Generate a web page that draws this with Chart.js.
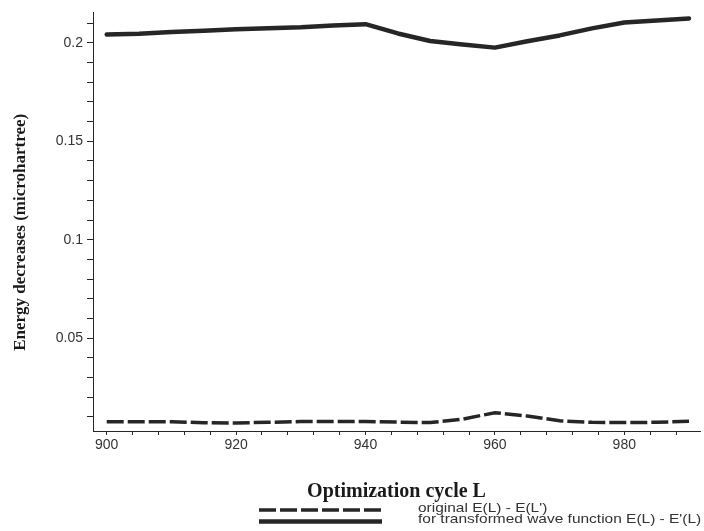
<!DOCTYPE html>
<html><head><meta charset="utf-8">
<script src="https://cdn.jsdelivr.net/npm/chart.js@4.4.1/dist/chart.umd.min.js"></script>
<style>html,body{margin:0;padding:0;background:#fff}#wrap{width:704px;height:531px}</style>
</head><body><div id="wrap"><canvas id="c" width="704" height="531"></canvas></div>
<script>
const cycles = [900,905,910,915,920,925,930,935,940,945,950,955,960,965,970,975,980,985,990];
const originalDiff = [0.0075,0.0075,0.0075,0.0070,0.0069,0.0072,0.0076,0.0076,0.0076,0.0073,0.0071,0.0088,0.0121,0.0104,0.0080,0.0072,0.0071,0.0072,0.0077];
const transformedDiff = [0.2043,0.2047,0.2055,0.2062,0.2070,0.2075,0.2080,0.2089,0.2095,0.2048,0.2010,0.1992,0.1976,0.2008,0.2038,0.2074,0.2104,0.2114,0.2124];
const xTickValues = [900,904,908,912,916,920,924,928,932,936,940,944,948,952,956,960,964,968,972,976,980,984,988];
const xTickLabels = [900,920,940,960,980];
const yTickValues = [0.01,0.02,0.03,0.04,0.05,0.06,0.07,0.08,0.09,0.10,0.11,0.12,0.13,0.14,0.15,0.16,0.17,0.18,0.19,0.20,0.21];
const yTickLabels = [0.05,0.1,0.15,0.2];
const seriesLabels = ["original E(L) - E(L')", "for transformed wave function E(L) - E'(L)"];
const xTitle = 'Optimization cycle L';
const yTitle = 'Energy decreases (microhartree)';

const INK = '#262626';
const TXT = '#333333';

const bottomLegend = {
  id: 'bottomLegend',
  afterDraw(chart) {
    const ctx = chart.ctx;
    const x0 = 259, x1 = 382, tx = 418, yStart = 510, step = 11.5;
    chart.data.datasets.forEach((ds, i) => {
      const y = yStart + i * step;
      ctx.save();
      ctx.strokeStyle = ds.borderColor;
      ctx.lineWidth = ds.borderWidth;
      ctx.setLineDash(ds.borderDash || []);
      ctx.beginPath();
      ctx.moveTo(x0, y);
      ctx.lineTo(x1, y);
      ctx.stroke();
      ctx.setLineDash([]);
      ctx.fillStyle = TXT;
      ctx.font = '13px "Liberation Sans", Arial, sans-serif';
      ctx.textBaseline = 'middle';
      ctx.textAlign = 'left';
      ctx.translate(tx, y - 2);
      ctx.scale(1.19, 1);
      ctx.fillText(ds.label, 0, 0);
      ctx.restore();
    });
  }
};

new Chart(document.getElementById('c'), {
  type: 'line',
  data: {
    datasets: [
      { label: seriesLabels[0], data: cycles.map((c, i) => ({x: c, y: originalDiff[i]})),
        borderColor: INK, borderWidth: 3.5, borderDash: [17, 4], pointRadius: 0, tension: 0, fill: false, borderCapStyle: 'butt' },
      { label: seriesLabels[1], data: cycles.map((c, i) => ({x: c, y: transformedDiff[i]})),
        borderColor: INK, borderWidth: 4.5, pointRadius: 0, tension: 0, fill: false, borderCapStyle: 'round', borderJoinStyle: 'round' }
    ]
  },
  options: {
    responsive: false, animation: false, devicePixelRatio: 1,
    layout: { padding: { top: 12, right: 4, left: 0, bottom: 0 } },
    plugins: { legend: { display: false }, tooltip: { enabled: false } },
    scales: {
      x: {
        type: 'linear', min: 897.88, max: 991.7,
        afterFit(s) { s.height = 100; },
        afterBuildTicks(s) { s.ticks = xTickValues.map(v => ({ value: v })); },
        ticks: {
          autoSkip: false, maxRotation: 0, padding: 2, color: TXT,
          font: { family: '"Liberation Sans", Arial, sans-serif', size: 14 },
          callback: v => xTickLabels.includes(v) ? String(v) : ''
        },
        grid: { drawOnChartArea: false, tickLength: 4, tickColor: INK },
        border: { color: INK, width: 1 },
        title: { display: true, text: xTitle, color: '#1a1a1a',
          font: { family: '"Liberation Serif", "Times New Roman", serif', size: 20, weight: 'bold' },
          padding: { top: 0, bottom: 27 } }
      },
      y: {
        type: 'linear', min: 0.0028, max: 0.2155,
        afterFit(s) { s.width = 93; },
        afterBuildTicks(s) { s.ticks = yTickValues.map(v => ({ value: v })); },
        ticks: {
          autoSkip: false, padding: 4, color: TXT,
          font: { family: '"Liberation Sans", Arial, sans-serif', size: 14 },
          callback: v => yTickLabels.some(m => Math.abs(m - v) < 1e-9) ? String(Number(v.toFixed(2))) : ''
        },
        grid: { drawOnChartArea: false, tickLength: 6, tickColor: INK },
        border: { color: INK, width: 1 },
        title: { display: true, text: yTitle + '     ', color: '#1a1a1a',
          font: { family: '"Liberation Serif", "Times New Roman", serif', size: 17, weight: 'bold' },
          padding: { top: 10, bottom: 0 } }
      }
    }
  },
  plugins: [bottomLegend]
});
</script></body></html>
